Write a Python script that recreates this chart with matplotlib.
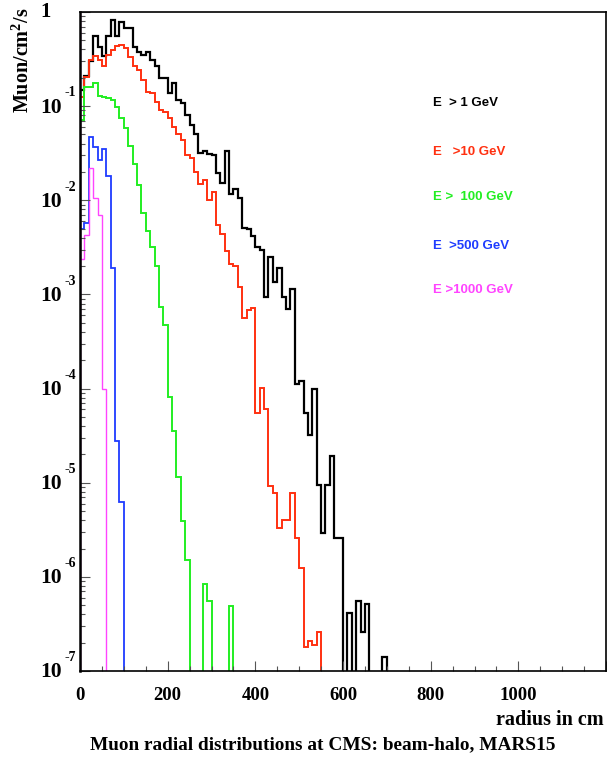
"""
Muon radial distributions at CMS (beam-halo, MARS15)
step histograms, 10 cm bins, log y
"""
import numpy as np
import matplotlib
matplotlib.use("Agg")
import matplotlib.pyplot as plt
from matplotlib.ticker import MultipleLocator, LogLocator, NullFormatter

## flux per 10 cm bin (muon/cm2/s), 0 = empty bin
e1_gev = [0.15, 0.21, 0.30, 0.55, 0.43, 0.34, 0.55, 0.82, 0.55, 0.79,
          0.68, 0.68, 0.43, 0.38, 0.35, 0.38, 0.31, 0.27, 0.20, 0.20,
          0.137, 0.175, 0.116, 0.107, 0.0805, 0.063, 0.051, 0.032, 0.033, 0.031,
          0.030, 0.0195, 0.0151, 0.033, 0.0117, 0.0132, 0.0107, 0.0051, 0.0049, 0.0042,
          0.0032, 0.0030, 0.00095, 0.0025, 0.00136, 0.0019, 0.00095, 0.0007, 0.00115, 1.12e-4,
          1.2e-4, 5.5e-5, 3.2e-5, 1.0e-4, 9.5e-6, 2.9e-6, 9.5e-6, 1.9e-5, 2.6e-6, 2.6e-6,
          0, 4.1e-7, 0, 5.6e-7, 2.6e-7, 5.1e-7, 0, 0, 0, 1.4e-7]
e10_gev = [0.126, 0.206, 0.31, 0.34, 0.31, 0.27, 0.35, 0.39, 0.435, 0.45,
           0.41, 0.335, 0.27, 0.24, 0.19, 0.143, 0.137, 0.111, 0.091, 0.087,
           0.074, 0.060, 0.051, 0.044, 0.030, 0.028, 0.020, 0.015, 0.0166, 0.010,
           0.0123, 0.0055, 0.0044, 0.0029, 0.0021, 0.0020, 0.0012, 5.6e-4, 6.8e-4, 7.2e-4,
           5.5e-5, 1.02e-4, 6.0e-5, 9.3e-6, 7.8e-6, 3.3e-6, 4.0e-6, 4.0e-6, 7.8e-6, 2.6e-6,
           1.23e-6, 1.8e-7, 2.1e-7, 1.9e-7, 2.6e-7]
e100_gev = [0.071, 0.158, 0.158, 0.175, 0.129, 0.126, 0.121, 0.115, 0.098, 0.074,
            0.058, 0.038, 0.0245, 0.0145, 0.0074, 0.0047, 0.0032, 0.0020, 7.4e-4, 4.7e-4,
            8.1e-5, 3.5e-5, 1.15e-5, 3.9e-6, 1.5e-6, 0, 0, 0, 8.3e-7, 5.5e-7,
            0, 0, 0, 0, 4.9e-7]
e500_gev = [0.0049, 0.0058, 0.047, 0.037, 0.027, 0.035, 0.018, 0.0019, 2.8e-5, 6.2e-6]
e1000_gev = [0.0024, 0.0043, 0.022, 0.0105, 0.0069, 1.0e-4]

bin_width = 10
series = [e1_gev, e10_gev, e100_gev, e500_gev, e1000_gev]
labels = ["E  > 1 GeV", "E   >10 GeV", "E >  100 GeV", "E  >500 GeV", "E >1000 GeV"]
colors = ["black", "#ff3010", "#22ee22", "#1f3cff", "#ff44ff"]
widths = [1.6, 1.4, 1.4, 1.3, 1.0]
label_y = [103, 152, 197, 246, 290]   # pixel rows of the legend lines

x_ticks = [0, 200, 400, 600, 800, 1000]


def main():
    plt.rcParams["mathtext.fontset"] = "custom"
    plt.rcParams["mathtext.rm"] = "Liberation Serif:bold"
    plt.rcParams["mathtext.bf"] = "Liberation Serif:bold"

    W, H = 607, 763
    fig = plt.figure(figsize=(W / 100, H / 100), dpi=100)
    ax = fig.add_axes([80 / W, 1 - 671 / H, 526 / W, 659 / H])

    floor = 1e-12
    for vals, col, lw in zip(series, colors, widths):
        v = np.array(vals, dtype=float)
        v = np.where(v > 0, v, floor)
        edges = np.arange(len(v) + 1) * bin_width
        ax.stairs(v, edges, baseline=floor, color=col, lw=lw)

    ## magenta edge running up the left axis
    ax.vlines(0, e1000_gev[0], 1, color=colors[4], lw=1.0)

    ax.set_yscale("log")
    ax.set_ylim(1e-7, 1)
    ax.set_xlim(0, 1200)

    ax.xaxis.set_major_locator(MultipleLocator(200))
    ax.xaxis.set_minor_locator(MultipleLocator(50))
    ax.yaxis.set_major_locator(LogLocator(base=10, numticks=20))
    ax.yaxis.set_minor_locator(LogLocator(base=10, subs=np.arange(2, 10), numticks=20))
    ax.yaxis.set_major_formatter(NullFormatter())
    ax.yaxis.set_minor_formatter(NullFormatter())
    ax.xaxis.set_major_formatter(NullFormatter())
    ax.tick_params(which="both", direction="in", top=False, right=False,
                   color="#555555", width=0.8)
    ax.tick_params(which="major", length=7)
    ax.tick_params(which="minor", length=3.5)
    for s in ax.spines.values():
        s.set_linewidth(1.2)
    ax.spines["left"].set_linewidth(1.8)

    serif = "Liberation Serif"
    ## x tick labels
    for t in x_ticks:
        ax.annotate(str(t), xy=(t, 0), xycoords=("data", "axes fraction"),
                    xytext=(0, -18), textcoords="offset points",
                    ha="center", va="center", fontsize=13.5,
                    family=serif, weight="bold")

    ## y tick labels, ROOT style 10 ^-n
    ax.annotate("1", xy=(0, 1), xycoords=("axes fraction", "data"),
                xytext=(-25, 0), textcoords="offset points",
                ha="center", va="center", fontsize=15, family=serif, weight="bold")
    for k in range(1, 8):
        ax.annotate("10", xy=(0, 10.0 ** -k), xycoords=("axes fraction", "data"),
                    xytext=(-13, -1), textcoords="offset points",
                    ha="right", va="center", fontsize=15.5, family=serif, weight="bold")
        ax.annotate("-%d" % k, xy=(0, 10.0 ** -k), xycoords=("axes fraction", "data"),
                    xytext=(-11.5, 9.5), textcoords="offset points",
                    ha="left", va="center", fontsize=10, family=serif, weight="bold")

    fig.text(22 / W, 1 - 8 / H, r"$\mathbf{Muon/cm^{2}/s}$", rotation=90,
             ha="center", va="top", fontsize=14.5)
    fig.text(604 / W, 1 - 720 / H, "radius in cm", ha="right", va="center",
             fontsize=14.5, family=serif, weight="bold")
    fig.text(323 / W, 1 - 745 / H, "Muon radial distributions at CMS: beam-halo, MARS15",
             ha="center", va="center", fontsize=13.9, family=serif, weight="bold")

    ## legend texts
    for lab, col, y in zip(labels, colors, label_y):
        fig.text(433 / W, 1 - y / H, lab, color=col, ha="left", va="center",
                 fontsize=9.5, family="Liberation Sans", weight="bold")

    fig.savefig("out.png", dpi=100)


if __name__ == '__main__':
    main()
